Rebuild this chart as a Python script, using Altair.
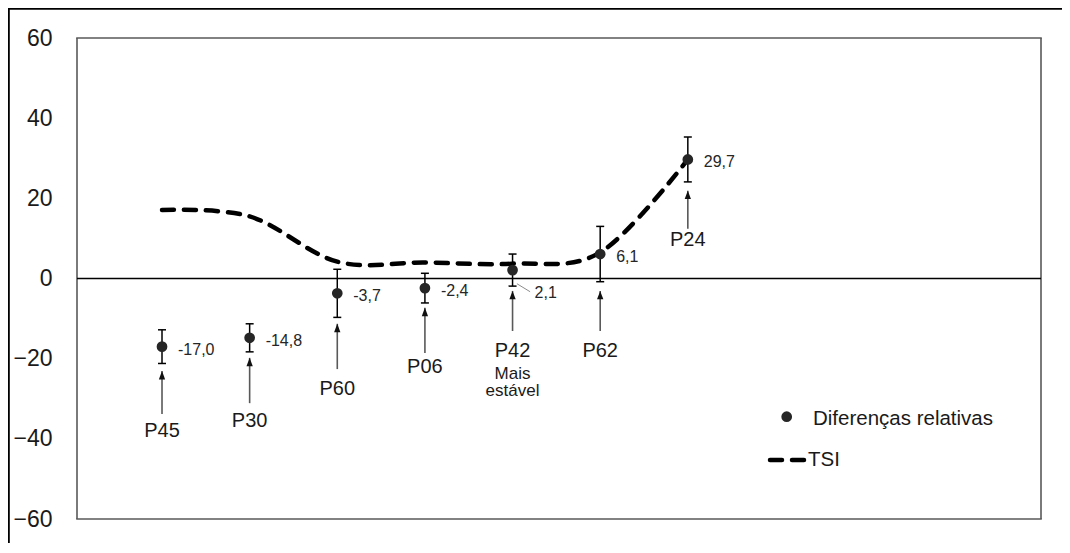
import altair as alt
import pandas as pd

# ---- data ----
categories = ["P45", "P30", "P60", "P06", "P42", "P62", "P24"]
positions = [1, 2, 3, 4, 5, 6, 7]
diff_values = [-17.0, -14.8, -3.7, -2.4, 2.1, 6.1, 29.7]
diff_errors = [4.2, 3.5, 6.0, 3.7, 4.0, 6.9, 5.6]
tsi_values = [17.1, 15.5, 4.2, 4.0, 3.7, 6.5, 29.7]
# annotation arrows (data units on the y axis)
arrow_tips = [-23.1, -19.8, -11.3, -7.3, -3.1, -3.1, 21.9]
arrow_bases = [-33.8, -31.1, -22.6, -18.6, -13.1, -13.1, 12.4]
label_y = [-38.1, -35.6, -27.6, -22.1, -18.1, -18.1, 9.7]
sub_label = ["Mais", "estável"]
sub_label_x = [5]
sub_label_y = [-21.9]
leader_x = [5.05, 5.2]
leader_y = [-1.3, -3.3]
y_ticks = [-60, -40, -20, 0, 20, 40, 60]
legend_labels = ["Diferenças relativas", "TSI"]

FONT = "Liberation Sans"

df = pd.DataFrame({
    "cat": categories,
    "x": positions,
    "v": diff_values,
    "err": diff_errors,
    "tsi": tsi_values,
    "tip": arrow_tips,
    "base": arrow_bases,
    "ly": label_y,
})
df["lo"] = df["v"] - df["err"]
df["hi"] = df["v"] + df["err"]
df["vlabel"] = [f"{v:.1f}".replace(".", ",") for v in diff_values]

W, H = 964, 481
PAD_L, PAD_T, PAD_R, PAD_B = 69, 30, 21, 24

xs = alt.Scale(domain=[0.03, 11.03], nice=False, zero=False)
ys = alt.Scale(domain=[-60, 60], nice=False, zero=False)
X = alt.X("x:Q", scale=xs, axis=None)

base = alt.Chart(df)

zero = alt.Chart(pd.DataFrame({"y": [0]})).mark_rule(color="black", strokeWidth=1.3).encode(
    y=alt.Y("y:Q", scale=ys,
            axis=alt.Axis(values=y_ticks, labelFontSize=23, labelFont=FONT, labelColor="#1a1a1a",
                          ticks=False, domain=False, grid=False, labelPadding=25, title=None,
                          labelOverlap=False, labelFlush=False))
)

tsi_line = base.mark_line(interpolate="cardinal", strokeDash=[12, 10], strokeCap="round",
                          strokeWidth=4.5, color="black").encode(
    x=X, y=alt.Y("tsi:Q", scale=ys)
)

err_rule = base.mark_rule(color="black", strokeWidth=1.5).encode(
    x=X, y=alt.Y("lo:Q", scale=ys), y2="hi:Q"
)
cap_lo = base.mark_tick(orient="horizontal", size=8, thickness=1.5, color="black", opacity=1).encode(
    x=X, y=alt.Y("lo:Q", scale=ys)
)
cap_hi = base.mark_tick(orient="horizontal", size=8, thickness=1.5, color="black", opacity=1).encode(
    x=X, y=alt.Y("hi:Q", scale=ys)
)

points = base.mark_point(filled=True, size=115, color="#262626", opacity=1).encode(
    x=X, y=alt.Y("v:Q", scale=ys)
)

vlabels = base.transform_filter(alt.datum.cat != "P42").mark_text(
    align="left", baseline="middle", dx=16, dy=3, fontSize=16, font=FONT, color="#262626"
).encode(x=X, y=alt.Y("v:Q", scale=ys), text="vlabel:N")

vlabel_p42 = base.transform_filter(alt.datum.cat == "P42").mark_text(
    align="left", baseline="middle", dx=22, dy=23, fontSize=16, font=FONT, color="#262626"
).encode(x=X, y=alt.Y("v:Q", scale=ys), text="vlabel:N")

leader = alt.Chart(pd.DataFrame({"x": [leader_x[0]], "x2": [leader_x[1]],
                                 "y": [leader_y[0]], "y2": [leader_y[1]]})).mark_rule(
    color="#8c8c8c", strokeWidth=1
).encode(x=alt.X("x:Q", scale=xs, axis=None), x2="x2:Q", y=alt.Y("y:Q", scale=ys), y2="y2:Q")

arrow_shaft = base.mark_rule(color="#595959", strokeWidth=1.6).encode(
    x=X, y=alt.Y("base:Q", scale=ys), y2="tip:Q"
)
arrow_head = base.mark_point(shape="M0,0L-0.9,2.4L0.9,2.4Z", filled=True, size=49,
                             color="#111111", opacity=1).encode(
    x=X, y=alt.Y("tip:Q", scale=ys)
)

cat_labels = base.mark_text(align="center", baseline="middle", fontSize=20, font=FONT,
                            color="#1a1a1a").encode(
    x=X, y=alt.Y("ly:Q", scale=ys), text="cat:N"
)

sub = alt.Chart(pd.DataFrame({"x": sub_label_x, "y": sub_label_y, "t": ["\n".join(sub_label)]})).mark_text(
    align="center", baseline="top", fontSize=17, font=FONT, color="#1a1a1a",
    lineBreak="\n", lineHeight=17
).encode(x=alt.X("x:Q", scale=xs, axis=None), y=alt.Y("y:Q", scale=ys), text="t:N")

one = pd.DataFrame({"a": [0]})
leg_dot = alt.Chart(one).mark_point(filled=True, size=115, color="#262626", opacity=1).encode(
    x=alt.value(709.7), y=alt.value(378.7))
leg_t1 = alt.Chart(one).mark_text(align="left", baseline="middle", fontSize=20.5, font=FONT,
                                  color="#1a1a1a", text=legend_labels[0]).encode(
    x=alt.value(736), y=alt.value(381))
leg_dash = alt.Chart(one).mark_rule(strokeDash=[12, 10], strokeCap="round", strokeWidth=4.5,
                                    color="black").encode(
    x=alt.value(693), x2=alt.value(727), y=alt.value(422))
leg_t2 = alt.Chart(one).mark_text(align="left", baseline="middle", fontSize=20.5, font=FONT,
                                  color="#1a1a1a", text=legend_labels[1]).encode(
    x=alt.value(731), y=alt.value(422))

# plot frame (drawn explicitly)
FRAME = "#595959"
frame_l = alt.Chart(one).mark_rule(color=FRAME, strokeWidth=1.6).encode(
    x=alt.value(0), y=alt.value(0), y2=alt.value(H))
frame_r = alt.Chart(one).mark_rule(color=FRAME, strokeWidth=1.6).encode(
    x=alt.value(W), y=alt.value(0), y2=alt.value(H))
frame_t = alt.Chart(one).mark_rule(color=FRAME, strokeWidth=1.6).encode(
    x=alt.value(-0.8), x2=alt.value(W + 0.8), y=alt.value(0))
frame_b = alt.Chart(one).mark_rule(color=FRAME, strokeWidth=1.6).encode(
    x=alt.value(-0.8), x2=alt.value(W + 0.8), y=alt.value(H))

# outer picture border (left and top edges only), drawn as thin filled bars
border_left = alt.Chart(one).mark_rect(color="black", opacity=1).encode(
    x=alt.value(-PAD_L), x2=alt.value(-PAD_L + 1.8),
    y=alt.value(-PAD_T), y2=alt.value(H + PAD_B))
border_top = alt.Chart(one).mark_rect(color="black", opacity=1).encode(
    x=alt.value(-PAD_L), x2=alt.value(W + PAD_R),
    y=alt.value(-PAD_T), y2=alt.value(-PAD_T + 1.8))

chart = alt.layer(
    frame_l, frame_r, frame_t, frame_b,
    zero, tsi_line, err_rule, cap_lo, cap_hi, points, vlabels, vlabel_p42, leader,
    arrow_shaft, arrow_head, cat_labels, sub,
    leg_dot, leg_t1, leg_dash, leg_t2, border_left, border_top
).properties(
    width=W, height=H,
    autosize="none",
    padding={"left": PAD_L, "top": PAD_T, "right": PAD_R, "bottom": PAD_B},
).configure_view(strokeWidth=0, stroke="transparent")

chart.save("out.html", embed_options={"renderer": "svg", "actions": False})
